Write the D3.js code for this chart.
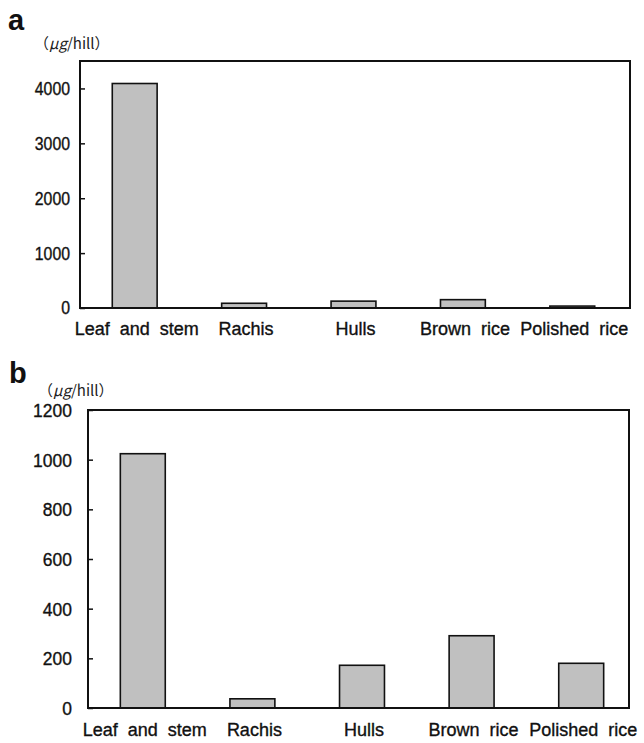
<!DOCTYPE html>
<html>
<head>
<meta charset="utf-8">
<script src="https://cdn.jsdelivr.net/npm/d3@7"></script>
<style>
  body { margin: 0; background: #fff; }
  svg { display: block; }
  .tick-label { font-family: "Liberation Sans", Arial, sans-serif; fill: #111; stroke: #111; stroke-width: 0.35px; }
  .cat-label { font-family: "Liberation Sans", Arial, sans-serif; font-size: 18px; word-spacing: 5px; fill: #111; stroke: #111; stroke-width: 0.35px; }
  .panel-letter { font-family: "Liberation Sans", Arial, sans-serif; font-weight: bold; font-size: 29px; fill: #111; }
  .unit { font-family: "Noto Sans CJK JP", sans-serif; font-size: 15px; fill: #222; }
</style>
</head>
<body>
<div class="chart"></div>
<script>
// データ
const categories = ["Leaf and stem", "Rachis", "Hulls", "Brown rice", "Polished rice"];
const valuesA = [4090, 86, 125, 152, 35];
const valuesB = [1024, 37, 172, 291, 180];
const ticksA = [0, 1000, 2000, 3000, 4000];
const ticksB = [0, 200, 400, 600, 800, 1000, 1200];

const W = 644, H = 743;

const svg = d3.select(".chart")
    .append("svg")
    .attr("width", W)
    .attr("height", H);

// パネル描画
function drawPanel(p) {
    const g = svg.append("g");

    const x = d3.scaleBand()
        .domain(categories)
        .range([p.left, p.bandRight])
        .paddingInner(0.59)
        .paddingOuter(0.295);
    const y = d3.scaleLinear().domain(p.domain).range([p.bottom, p.top]);

    // 棒
    g.selectAll(".bar")
        .data(p.values.map((v, i) => ({ cat: categories[i], value: v })))
        .enter()
        .append("rect")
        .attr("class", "bar")
        .attr("x", d => x(d.cat))
        .attr("y", d => y(d.value))
        .attr("width", x.bandwidth())
        .attr("height", d => y(0) - y(d.value))
        .attr("fill", "#c0c0c0")
        .attr("stroke", "#111")
        .attr("stroke-width", 1.6);

    // 枠
    g.append("rect")
        .attr("x", p.left)
        .attr("y", p.top)
        .attr("width", p.right - p.left)
        .attr("height", p.bottom - p.top)
        .attr("fill", "none")
        .attr("stroke", "#111")
        .attr("stroke-width", 2);

    // Y軸（内向きの目盛り）
    const yAxis = d3.axisRight(y).tickValues(p.ticks).tickSize(5).tickFormat("");
    const ax = g.append("g")
        .attr("transform", `translate(${p.left},0)`)
        .call(yAxis);
    ax.select(".domain").remove();
    ax.selectAll(".tick line").attr("stroke", "#111").attr("stroke-width", 1.5);

    g.selectAll(".ylab")
        .data(p.ticks)
        .enter()
        .append("text")
        .attr("class", "tick-label")
        .attr("text-anchor", "end")
        .attr("dy", "0.36em")
        .style("font-size", p.tickFont + "px")
        .attr("transform", d => `translate(${p.labelRight},${y(d)}) scale(${p.tickScale},1)`)
        .text(d => d);

    // カテゴリラベル
    g.selectAll(".xlab")
        .data(categories)
        .enter()
        .append("text")
        .attr("class", "cat-label")
        .attr("text-anchor", "middle")
        .attr("x", d => x(d) + x.bandwidth() / 2 + 2)
        .attr("y", p.catY)
        .text(d => d);

    // パネル記号
    g.append("text")
        .attr("class", "panel-letter")
        .attr("x", p.letterX)
        .attr("y", p.letterY)
        .text(p.letter);

    // 単位
    const u = g.append("text")
        .attr("class", "unit")
        .attr("x", p.unitX)
        .attr("y", p.unitY);
    u.append("tspan").text("（");
    u.append("tspan").style("font-style", "italic").text("μg");
    u.append("tspan").text("/hill）");
}

drawPanel({
    letter: "a", letterX: 8, letterY: 30,
    unitX: 34, unitY: 49,
    left: 80, right: 630, bandRight: 627, top: 61, bottom: 308,
    domain: [0, 4500], ticks: ticksA, values: valuesA,
    labelRight: 70, tickFont: 18, tickScale: 0.88,
    catY: 335
});

drawPanel({
    letter: "b", letterX: 9, letterY: 383,
    unitX: 38, unitY: 396,
    left: 88, right: 629, bandRight: 636, top: 410, bottom: 708,
    domain: [0, 1200], ticks: ticksB, values: valuesB,
    labelRight: 72, tickFont: 19, tickScale: 0.92,
    catY: 736
});
</script>
</body>
</html>
